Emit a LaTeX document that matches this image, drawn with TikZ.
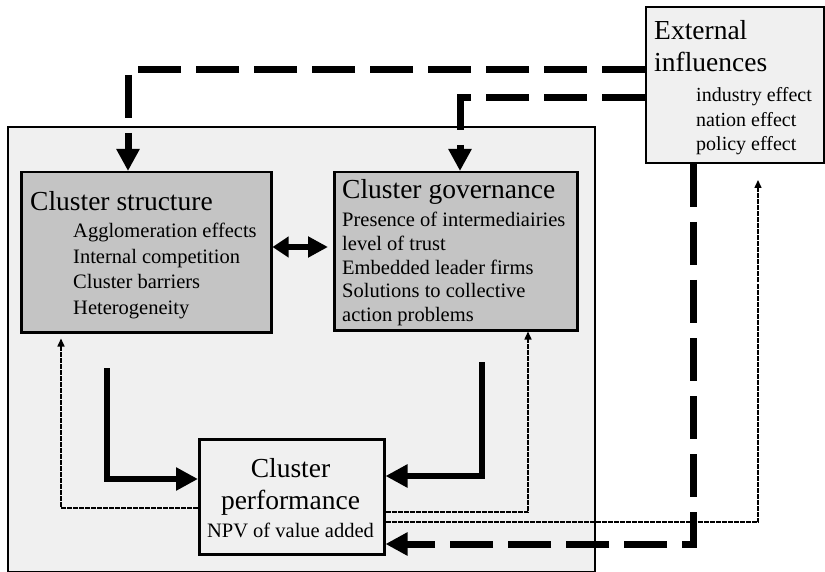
\documentclass[tikz,border=0pt]{standalone}
\usepackage{fontspec}
\setmainfont{Liberation Serif}
\usetikzlibrary{arrows.meta}
\definecolor{boxgray}{HTML}{C4C4C4}
\definecolor{lightbg}{HTML}{F0F0F0}
\begin{document}
\begin{tikzpicture}[x=1pt,y=-1pt,
  box/.style={draw, line width=2.5pt, anchor=north west, inner sep=0pt},
  titletext/.style={anchor=base west, inner sep=0pt, font=\fontsize{27.5}{30}\selectfont},
  itemtext/.style={anchor=base west, inner sep=0pt, font=\fontsize{20.5}{24}\selectfont},
  exttext/.style={anchor=base west, inner sep=0pt, font=\fontsize{20}{24}\selectfont},
  dashedarrow/.style={line width=7pt, dash pattern=on 43pt off 15pt, -{Triangle[length=22pt,width=22pt]}},
  dashedline/.style={line width=7pt, dash pattern=on 43pt off 15pt},
  thickarrow/.style={line width=6.5pt, -{Triangle[length=22pt,width=22pt]}},
  dblarrow/.style={line width=6pt, {Triangle[length=16pt,width=20pt]}-{Triangle[length=20pt,width=20pt]}},
  dotarrow/.style={line width=1.5pt, dash pattern=on 5pt off 1pt, -{Triangle[length=8pt,width=7pt]}}
]
\useasboundingbox (0,0) rectangle (825,572);
\fill[white] (0,0) rectangle (825,572);

% outer region
\node[box, line width=2pt, fill=lightbg, minimum width=587pt, minimum height=445pt] (outer) at (7,126) {};

% boxes
\node[box, fill=boxgray, minimum width=250pt, minimum height=160pt] (cs) at (20,171) {};
\node[box, fill=boxgray, minimum width=243pt, minimum height=158pt] (cg) at (333,171) {};
\node[box, line width=2pt, fill=lightbg, minimum width=178pt, minimum height=156pt] (ext) at (645,6) {};
\node[box, fill=lightbg, minimum width=185pt, minimum height=115pt] (cp) at (198,438) {};

% texts: structure
\node[titletext] (cs1) at (30,210.7) {Cluster structure};
\node[itemtext] (cs2) at (73,238) {Agglomeration effects};
\node[itemtext] (cs3) at (73,263.5) {Internal competition};
\node[itemtext] (cs4) at (73,289) {Cluster barriers};
\node[itemtext] (cs5) at (73,314.5) {Heterogeneity};

% texts: governance
\node[titletext] (cg1) at (342,198.3) {Cluster governance};
\node[itemtext] (cg2) at (342,227) {Presence of intermediairies};
\node[itemtext] (cg3) at (342,250.6) {level of trust};
\node[itemtext] (cg4) at (342,274.2) {Embedded leader firms};
\node[itemtext] (cg5) at (342,297.8) {Solutions to collective};
\node[itemtext] (cg6) at (342,321.4) {action problems};

% texts: external
\node[titletext] (ex1) at (654,40) {External};
\node[titletext] (ex2) at (654,72) {influences};
\node[exttext] (ex3) at (696,102) {industry effect};
\node[exttext] (ex4) at (696,127) {nation effect};
\node[exttext] (ex5) at (696,151) {policy effect};

% texts: performance
\node[titletext, anchor=base] (cp1) at (290.5,477) {Cluster};
\node[titletext, anchor=base] (cp2) at (290.5,509) {performance};
\node[itemtext, anchor=base] (cp3) at (290.5,537) {NPV of value added};

% dashed connectors from external influences
\coordinate (k1) at (128,70);
\draw[dashedarrow] (ext.west |- k1) -- (k1) -- (cs.north -| k1);
\coordinate (k2) at (460,98);
\draw[dashedarrow] (ext.west |- k2) -- (k2) -- (cg.north -| k2);
\coordinate (k3) at (693,544);
\draw[dashedarrow] (ext.south -| k3) -- (k3) -- (cp.east |- k3);

% double arrow
\coordinate (m1) at (0,247);
\draw[dblarrow] (cs.east |- m1) -- ([xshift=-5pt]cg.west |- m1);

% thick solid arrows
\coordinate (s1) at (107,368);
\coordinate (s1c) at (107,479);
\draw[thickarrow] (s1) -- (s1c) -- (cp.west |- s1c);
\coordinate (s2) at (482,362);
\coordinate (s2c) at (482,476);
\draw[thickarrow] (s2) -- (s2c) -- (cp.east |- s2c);

% dotted feedback arrows
\coordinate (d1) at (61,508);
\draw[dotarrow, shorten >=5pt] (cp.west |- d1) -- (d1) -- (cs.south -| d1);
\coordinate (d2) at (528,512);
\draw[dotarrow] (cp.east |- d2) -- (d2) -- (cg.south -| d2);
\coordinate (d3) at (758,522);
\draw[dotarrow, shorten >=16pt] (cp.east |- d3) -- (d3) -- (ext.south -| d3);
\end{tikzpicture}
\end{document}
